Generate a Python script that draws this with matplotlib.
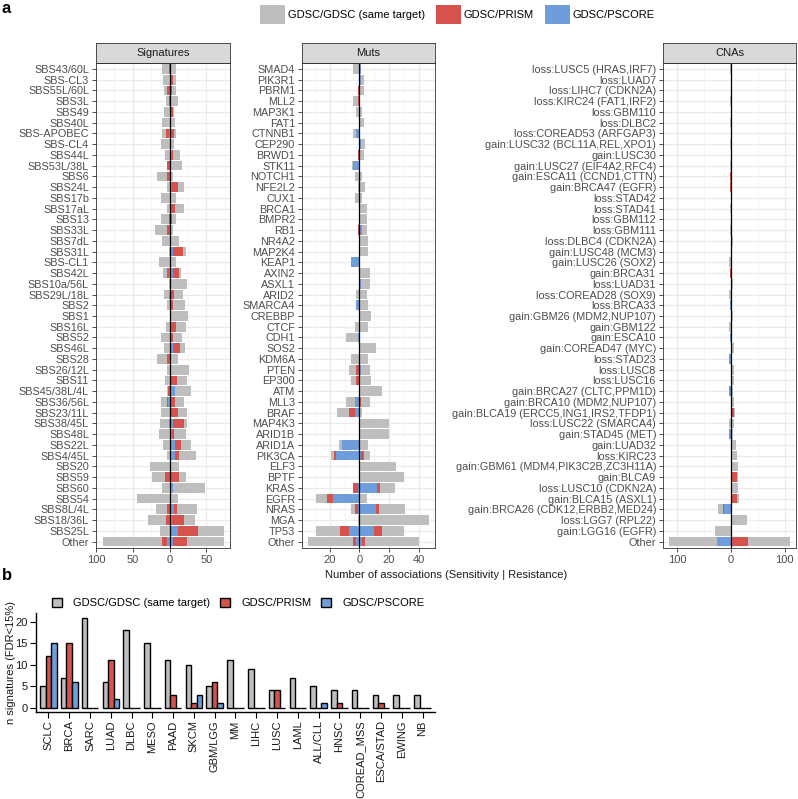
import numpy as np
import matplotlib.pyplot as plt
from matplotlib.patches import Patch

plt.rcParams['font.family'] = ['Liberation Sans', 'DejaVu Sans']

# ---------------- panel a data (counts per side, per source) ----------------
sig_labels = ["SBS43/60L", "SBS-CL3", "SBS55L/60L", "SBS3L", "SBS49", "SBS40L", "SBS-APOBEC",
              "SBS-CL4", "SBS44L", "SBS53L/38L", "SBS6", "SBS24L", "SBS17b", "SBS17aL", "SBS13",
              "SBS33L", "SBS7dL", "SBS31L", "SBS-CL1", "SBS42L", "SBS10a/56L", "SBS29L/18L",
              "SBS2", "SBS1", "SBS16L", "SBS52", "SBS46L", "SBS28", "SBS26/12L", "SBS11",
              "SBS45/38L/4L", "SBS36/56L", "SBS23/11L", "SBS38/45L", "SBS48L", "SBS22L",
              "SBS4/45L", "SBS20", "SBS59", "SBS60", "SBS54", "SBS8L/4L", "SBS18/36L", "SBS25L", "Other"]
sig_sens_pscore = [0,0,0,0,0,0,1,0,0,0, 0,0,0,0,0,0,0,0,0,1, 0,1,0,0,0,0,0,0,0,0, 0,2,0,1,0,0,0,0,0,0, 0,0,0,0,4]
sig_sens_prism = [1,0,4,1,0,0,4,0,0,3, 4,0,0,0,1,4,0,0,0,3, 0,0,0,0,0,0,0,4,0,0, 2,2,0,0,0,0,0,0,6,0, 0,4,5,0,7]
sig_sens_gdsc = [10,9,4,4,8,11,5,12,6,0, 13,3,12,3,11,16,11,1,15,5, 1,7,4,0,5,12,7,13,4,6, 1,8,12,12,15,9,3,27,18,11, 44,15,24,13,80]
sig_res_pscore = [2,0,0,0,2,1,2,0,3,0, 0,3,0,2,0,0,0,4,0,5, 2,2,0,0,2,2,4,0,0,2, 7,0,2,5,3,7,7,0,0,4, 0,6,3,12,5]
sig_res_prism = [0,4,3,0,3,0,4,0,2,0, 0,9,0,5,3,1,0,14,0,8, 0,4,4,0,7,3,10,2,0,8, 0,7,9,15,3,9,6,0,13,0, 0,4,16,27,18]
sig_res_gdsc = [7,4,5,11,1,6,2,6,9,17, 4,7,8,12,5,3,13,4,8,2, 21,12,17,25,13,12,7,10,26,14, 22,13,12,3,16,13,23,13,9,44, 11,27,15,35,51]

mut_labels = ["SMAD4", "PIK3R1", "PBRM1", "MLL2", "MAP3K1", "FAT1", "CTNNB1", "CEP290", "BRWD1",
              "STK11", "NOTCH1", "NFE2L2", "CUX1", "BRCA1", "BMPR2", "RB1", "NR4A2", "MAP2K4",
              "KEAP1", "AXIN2", "ASXL1", "ARID2", "SMARCA4", "CREBBP", "CTCF", "CDH1", "SOS2",
              "KDM6A", "PTEN", "EP300", "ATM", "MLL3", "BRAF", "MAP4K3", "ARID1B", "ARID1A",
              "PIK3CA", "ELF3", "BPTF", "KRAS", "EGFR", "NRAS", "MGA", "TP53", "Other"]
mut_sens_pscore = [0,0,0,0,0,0,2,0,0,4, 0,0,0,0,0,0,0,0,6,0, 0,0,2,0,0,1,0,0,0,0, 0,3,3,0,0,12,16,0,0,1, 18,1,0,7,2]
mut_sens_prism = [0,0,1,1,0,0,0,0,1,0, 0,0,0,0,0,1,0,0,0,0, 0,0,0,0,0,0,0,0,2,2, 0,0,4,0,0,0,1,0,0,3, 4,2,0,6,2]
mut_sens_gdsc = [4,0,0,3,2,0,2,0,0,1, 3,1,3,0,0,0,0,0,0,0, 0,2,0,0,3,8,0,6,5,4, 0,6,8,0,0,2,2,0,0,0, 7,3,1,16,31]
mut_res_pscore = [1,1,0,0,0,0,0,1,0,0, 0,0,0,0,0,2,0,0,0,0, 1,0,0,0,0,0,0,0,1,0, 0,0,0,0,0,0,1,0,0,12, 0,11,0,10,2]
mut_res_prism = [0,0,0,0,0,0,0,0,0,0, 0,0,0,0,0,0,0,0,0,0, 0,0,0,0,0,0,0,0,0,0, 0,1,0,0,0,0,2,0,0,2, 0,2,0,5,2]
mut_res_gdsc = [0,2,3,0,2,3,0,3,3,0, 2,4,2,5,5,3,6,6,0,7, 6,5,6,8,6,0,11,6,6,8, 15,6,2,20,20,6,4,25,30,10, 5,18,47,15,36]

cna_labels = ["loss:LUSC5 (HRAS,IRF7)", "loss:LUAD7", "loss:LIHC7 (CDKN2A)", "loss:KIRC24 (FAT1,IRF2)",
              "loss:GBM110", "loss:DLBC2", "loss:COREAD53 (ARFGAP3)", "gain:LUSC32 (BCL11A,REL,XPO1)",
              "gain:LUSC30", "gain:LUSC27 (EIF4A2,RFC4)", "gain:ESCA11 (CCND1,CTTN)", "gain:BRCA47 (EGFR)",
              "loss:STAD42", "loss:STAD41", "loss:GBM112", "loss:GBM111", "loss:DLBC4 (CDKN2A)",
              "gain:LUSC48 (MCM3)", "gain:LUSC26 (SOX2)", "gain:BRCA31", "loss:LUAD31",
              "loss:COREAD28 (SOX9)", "loss:BRCA33", "gain:GBM26 (MDM2,NUP107)", "gain:GBM122",
              "gain:ESCA10", "gain:COREAD47 (MYC)", "loss:STAD23", "loss:LUSC8", "loss:LUSC16",
              "gain:BRCA27 (CLTC,PPM1D)", "gain:BRCA10 (MDM2,NUP107)", "gain:BLCA19 (ERCC5,ING1,IRS2,TFDP1)",
              "loss:LUSC22 (SMARCA4)", "gain:STAD45 (MET)", "gain:LUAD32", "loss:KIRC23",
              "gain:GBM61 (MDM4,PIK3C2B,ZC3H11A)", "gain:BLCA9", "loss:LUSC10 (CDKN2A)",
              "gain:BLCA15 (ASXL1)", "gain:BRCA26 (CDK12,ERBB2,MED24)", "loss:LGG7 (RPL22)",
              "gain:LGG16 (EGFR)", "Other"]
cna_sens_pscore = [0,0,0,0,0,0,0,0,0,0, 0,0,0,0,0,0,0,0,0,0, 0,0,2,0,0,2,0,4,0,0, 3,0,0,0,4,0,0,0,0,0, 0,12,0,0,25]
cna_sens_prism = [0,0,0,0,0,0,0,0,0,0, 2,2,0,0,0,0,0,0,0,2, 0,0,0,0,0,0,0,0,0,0, 0,0,0,0,0,0,0,0,0,0, 0,3,0,0,0]
cna_sens_gdsc = [2,0,0,2,0,2,0,2,0,2, 0,0,0,2,0,2,0,0,3,0, 0,3,0,0,3,0,0,0,0,0, 0,0,0,3,0,0,0,0,0,0, 0,8,0,30,90]
cna_res_pscore = [0,0,2,0,0,0,0,0,0,0, 0,0,0,0,0,0,2,0,0,0, 0,0,0,0,0,0,0,0,0,0, 0,0,0,0,0,0,0,0,0,0, 0,0,0,0,0]
cna_res_prism = [0,3,0,0,0,0,0,0,0,0, 0,0,0,0,0,0,0,0,0,0, 0,0,0,0,0,0,0,0,0,0, 0,0,6,0,0,0,0,0,12,0, 12,2,0,0,32]
cna_res_gdsc = [2,0,0,0,2,0,2,2,3,0, 0,2,3,2,3,2,2,3,0,3, 4,2,3,4,2,3,5,2,5,6, 4,6,2,5,4,9,12,13,2,14, 3,0,30,0,78]

# ---------------- panel b data ----------------
tissues = ["SCLC", "BRCA", "SARC", "LUAD", "DLBC", "MESO", "PAAD", "SKCM", "GBM/LGG", "MM",
           "LIHC", "LUSC", "LAML", "ALL/CLL", "HNSC", "COREAD_MSS", "ESCA/STAD", "EWING", "NB"]
n_gdsc = [5, 7, 21, 6, 18, 15, 11, 10, 5, 11, 9, 4, 7, 5, 4, 4, 3, 3, 3]
n_prism = [12, 15, 0, 11, 0, 0, 3, 1, 6, 0, 0, 4, 0, 0, 1, 0, 1, 0, 0]
n_pscore = [15, 6, 0, 2, 0, 0, 0, 3, 1, 0, 0, 0, 0, 1, 0, 0, 0, 0, 0]

GRAY = '#BEBEBE'
RED = '#D6524C'
BLUE = '#6D9EDB'
series_names = ["GDSC/GDSC (same target)", "GDSC/PRISM", "GDSC/PSCORE"]

W, H = 798, 799
fig = plt.figure(figsize=(W / 100, H / 100), dpi=100)


def add_ax(x0, y0, x1, y1):
    return fig.add_axes([x0 / W, 1 - y1 / H, (x1 - x0) / W, (y1 - y0) / H])


def facet(x0, x1, title, labels, sens, res, xlim, ticks, minor):
    ax = add_ax(x0, 62.5, x1, 548)
    n = len(labels)
    y = np.arange(n)[::-1]
    for side, sign in ((sens, -1), (res, 1)):
        cum = np.zeros(n)
        for vals, col in zip(side, (BLUE, RED, GRAY)):
            vals = np.asarray(vals, float)
            ax.barh(y, sign * vals, left=sign * cum, height=0.9, color=col, lw=0, zorder=2)
            cum += vals
    ax.axvline(0, color='black', lw=0.9, zorder=3)
    ax.set_xlim(xlim)
    ax.set_ylim(-0.6, n - 0.4)
    ax.set_yticks(y)
    ax.set_yticklabels(labels, fontsize=7.8, color='#4D4D4D')
    ax.set_xticks(ticks)
    ax.set_xticklabels([str(abs(t)) for t in ticks], fontsize=8, color='#4D4D4D')
    ax.set_xticks(minor, minor=True)
    ax.tick_params(axis='x', which='minor', length=0)
    ax.tick_params(which='major', length=3, width=0.6, color='#333333', pad=2)
    ax.grid(which='major', color='#EBEBEB', lw=0.9, zorder=0)
    ax.grid(which='minor', axis='x', color='#F2F2F2', lw=0.5, zorder=0)
    ax.set_axisbelow(True)
    for s in ax.spines.values():
        s.set_color('#333333')
        s.set_linewidth(0.6)
    st = add_ax(x0, 43, x1, 62.5)
    st.set_facecolor('#D9D9D9')
    st.set_xticks([])
    st.set_yticks([])
    for s in st.spines.values():
        s.set_color('#333333')
        s.set_linewidth(0.6)
    st.text(0.5, 0.5, title, ha='center', va='center', fontsize=8, color='#1A1A1A')
    return ax


facet(96, 230, "Signatures", sig_labels,
      (sig_sens_pscore, sig_sens_prism, sig_sens_gdsc),
      (sig_res_pscore, sig_res_prism, sig_res_gdsc),
      (-99.5, 82), [-100, -50, 0, 50], [-75, -25, 25, 75])
facet(302, 435, "Muts", mut_labels,
      (mut_sens_pscore, mut_sens_prism, mut_sens_gdsc),
      (mut_res_pscore, mut_res_prism, mut_res_gdsc),
      (-38.8, 51.1), [-20, 0, 20, 40], [-30, -10, 10, 30, 50])
facet(663, 796, "CNAs", cna_labels,
      (cna_sens_pscore, cna_sens_prism, cna_sens_gdsc),
      (cna_res_pscore, cna_res_prism, cna_res_gdsc),
      (-126, 121), [-100, 0, 100], [-50, 50])

fig.text(446 / W, 1 - 575 / H, "Number of associations (Sensitivity | Resistance)",
         ha='center', va='center', fontsize=8, color='#1A1A1A')

handles_a = [Patch(facecolor=c, edgecolor='none') for c in (GRAY, RED, BLUE)]
fig.legend(handles_a, series_names, ncol=3, loc='center left',
           bbox_to_anchor=(260 / W, 1 - 14.5 / H), frameon=False, fontsize=8,
           handlelength=2.25, handleheight=2.25, handletextpad=0.25,
           columnspacing=1.0, borderpad=0, borderaxespad=0)

fig.text(2 / W, 1 - 13 / H, "a", fontsize=12, fontweight='bold', va='baseline')
fig.text(2 / W, 1 - 580 / H, "b", fontsize=12, fontweight='bold', va='baseline')

# ---------------- panel b ----------------
axb = add_ax(36, 613, 435, 712)
x = np.arange(len(tissues))
bw = 0.8 / 3
for k, (vals, col) in enumerate(zip((n_gdsc, n_prism, n_pscore), (GRAY, RED, BLUE))):
    axb.bar(x + (k - 1) * bw, vals, width=bw, color=col, edgecolor='black', lw=1.0, zorder=2)
axb.set_xlim(-0.6, len(tissues) - 0.4)
axb.set_ylim(-1.05, 22.05)
axb.set_yticks([0, 5, 10, 15, 20])
axb.set_xticks(x)
axb.set_xticklabels(tissues, rotation=90, fontsize=8, color='#1A1A1A')
axb.tick_params(axis='y', labelsize=8, labelcolor='#1A1A1A')
axb.tick_params(length=4, width=0.8, color='black', pad=2)
for s in ('top', 'right'):
    axb.spines[s].set_visible(False)
for s in ('left', 'bottom'):
    axb.spines[s].set_linewidth(1.0)
axb.set_ylabel("n signatures (FDR<15%)", fontsize=8, color='#1A1A1A')
axb.yaxis.set_label_coords(-20 / 399, 0.5)

handles_b = [Patch(facecolor=c, edgecolor='black', lw=1.0) for c in (GRAY, RED, BLUE)]
fig.legend(handles_b, series_names, ncol=3, loc='center left',
           bbox_to_anchor=(52 / W, 1 - 603 / H), frameon=False, fontsize=8,
           handlelength=0.9, handleheight=0.9, handletextpad=1.0,
           columnspacing=0.9, borderpad=0, borderaxespad=0)

fig.savefig("out.png", dpi=100)
